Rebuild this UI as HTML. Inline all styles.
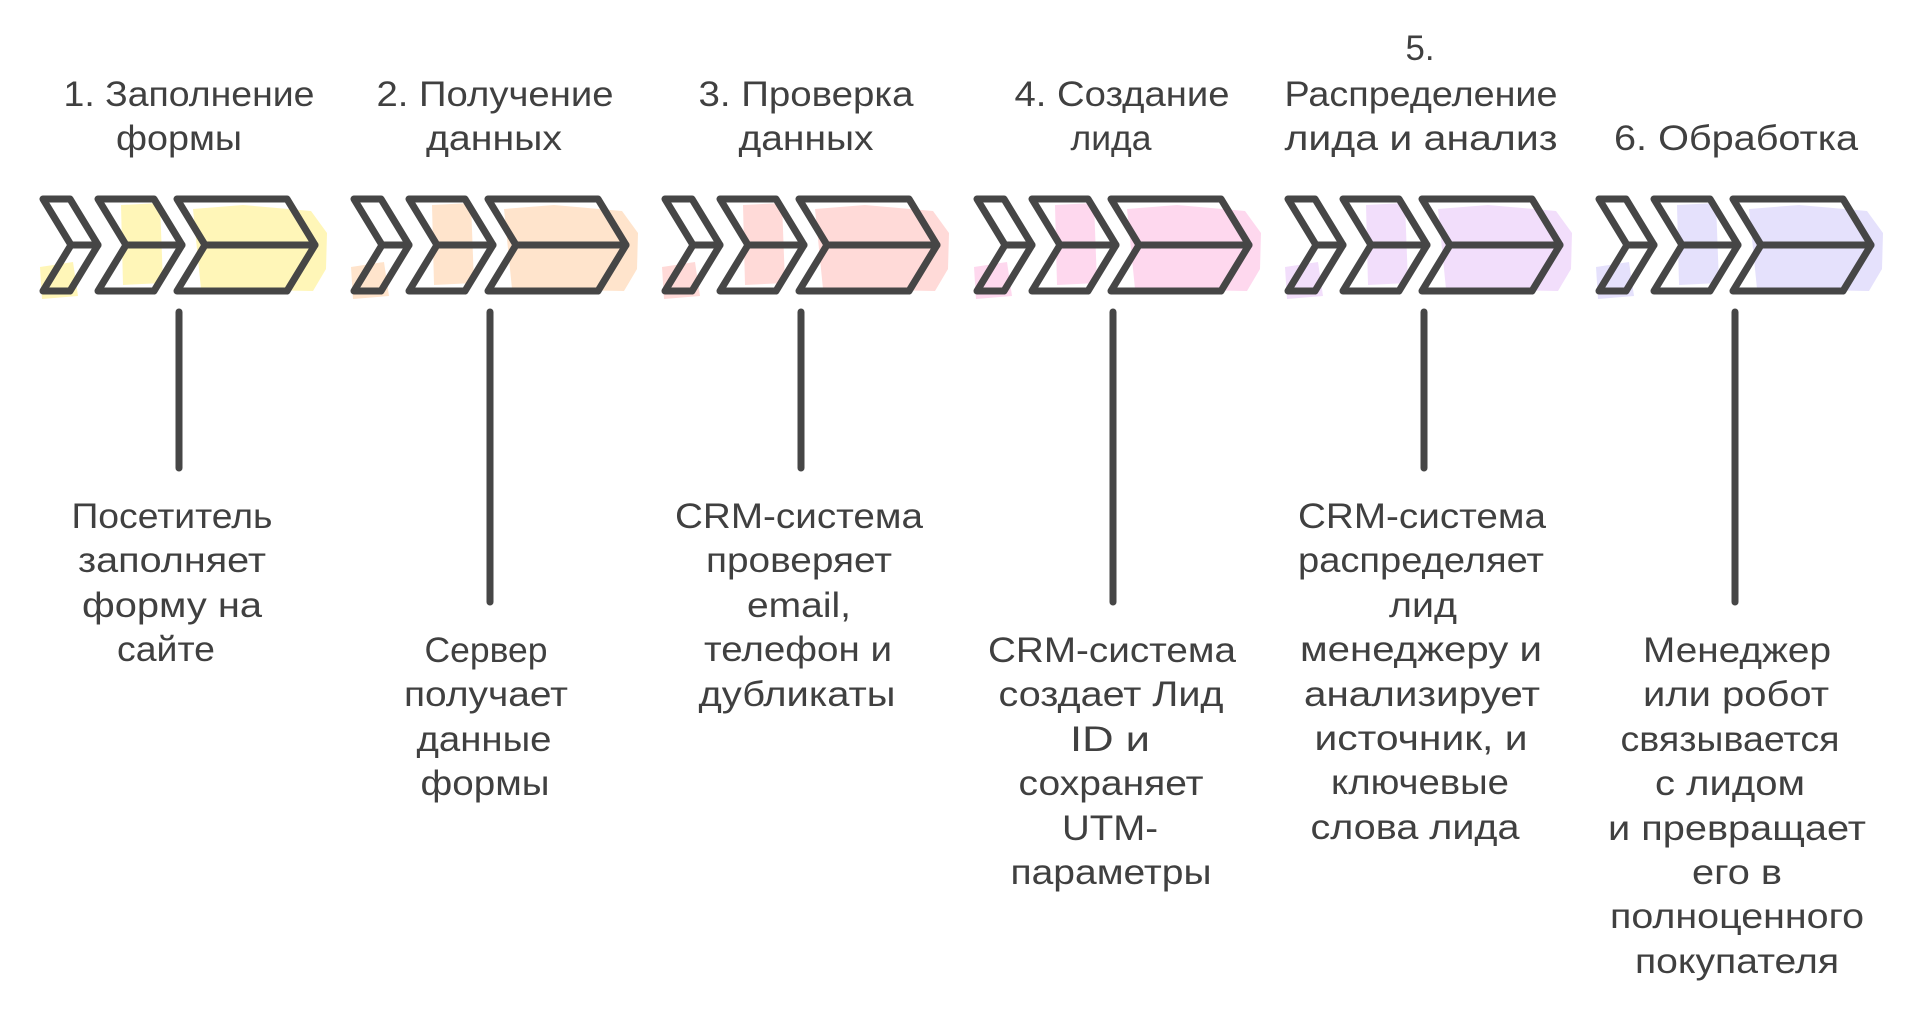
<!DOCTYPE html>
<html><head><meta charset="utf-8"><style>
html,body{margin:0;padding:0;background:#fff;}
svg{display:block;}
text{font-family:"Liberation Sans","Noto Sans CJK SC",sans-serif;font-size:35px;fill:#404040;}
</style></head><body>
<svg width="1920" height="1029" viewBox="0 0 1920 1029" xmlns="http://www.w3.org/2000/svg">
<defs>
<g id="chev">
<polygon points="0,0 27,0 55,46 27,92 0,92 28,46"/>
<line x1="28" y1="46" x2="55" y2="46"/>
<polygon points="55,0 111,0 139,46 111,92 55,92 83,46"/>
<line x1="83" y1="46" x2="139" y2="46"/>
<polygon points="134,0 244,0 272,46 244,92 134,92 162,46"/>
<line x1="162" y1="46" x2="272" y2="46"/>
</g>
<g id="fill">
<polygon points="-3,68 30,63 35,97 -1,100"/>
<polygon points="78,6 117,4 120,84 80,86"/>
<polygon points="150,10 200,6 268,12 284,34 283,70 270,92 158,90"/>
</g>
</defs>

<!-- fills -->
<use href="#fill" x="43" y="199" fill="#fff6b8"/>
<use href="#fill" x="354" y="199" fill="#ffe4cc"/>
<use href="#fill" x="665" y="199" fill="#ffdad8"/>
<use href="#fill" x="977" y="199" fill="#fed8ee"/>
<use href="#fill" x="1288" y="199" fill="#f2defb"/>
<use href="#fill" x="1599" y="199" fill="#e5e1fc"/>

<!-- chevron outlines -->
<g fill="none" stroke="#464646" stroke-width="7" stroke-linejoin="round" stroke-linecap="round">
<use href="#chev" x="43" y="199"/>
<use href="#chev" x="354" y="199"/>
<use href="#chev" x="665" y="199"/>
<use href="#chev" x="977" y="199"/>
<use href="#chev" x="1288" y="199"/>
<use href="#chev" x="1599" y="199"/>
<!-- stems -->
<line x1="179" y1="312" x2="179" y2="468"/>
<line x1="490" y1="312" x2="490" y2="602"/>
<line x1="801" y1="312" x2="801" y2="468"/>
<line x1="1113" y1="312" x2="1113" y2="602"/>
<line x1="1424" y1="312" x2="1424" y2="468"/>
<line x1="1735" y1="312" x2="1735" y2="602"/>
</g>

<g text-anchor="middle">
<!-- titles -->
<text x="189" y="106" textLength="251" lengthAdjust="spacingAndGlyphs">1. Заполнение</text>
<text x="179" y="150" textLength="126" lengthAdjust="spacingAndGlyphs">формы</text>
<text x="495" y="106" textLength="237" lengthAdjust="spacingAndGlyphs">2. Получение</text>
<text x="494" y="150" textLength="136" lengthAdjust="spacingAndGlyphs">данных</text>
<text x="806" y="106" textLength="215" lengthAdjust="spacingAndGlyphs">3. Проверка</text>
<text x="806" y="150" textLength="135" lengthAdjust="spacingAndGlyphs">данных</text>
<text x="1122" y="106" textLength="215" lengthAdjust="spacingAndGlyphs">4. Создание</text>
<text x="1111" y="150" textLength="81" lengthAdjust="spacingAndGlyphs">лида</text>
<text x="1420" y="60" textLength="29" lengthAdjust="spacingAndGlyphs">5.</text>
<text x="1421" y="106" textLength="273" lengthAdjust="spacingAndGlyphs">Распределение</text>
<text x="1421" y="150" textLength="273" lengthAdjust="spacingAndGlyphs">лида и анализ</text>
<text x="1736" y="150" textLength="244" lengthAdjust="spacingAndGlyphs">6. Обработка</text>

<!-- G1 -->
<text x="172" y="528" textLength="201" lengthAdjust="spacingAndGlyphs">Посетитель</text>
<text x="172" y="572" textLength="188" lengthAdjust="spacingAndGlyphs">заполняет</text>
<text x="172" y="617" textLength="180" lengthAdjust="spacingAndGlyphs">форму на</text>
<text x="166" y="661" textLength="98" lengthAdjust="spacingAndGlyphs">сайте</text>

<!-- G2 -->
<text x="486" y="662" textLength="123" lengthAdjust="spacingAndGlyphs">Сервер</text>
<text x="486" y="706" textLength="164" lengthAdjust="spacingAndGlyphs">получает</text>
<text x="484" y="751" textLength="135" lengthAdjust="spacingAndGlyphs">данные</text>
<text x="485" y="795" textLength="129" lengthAdjust="spacingAndGlyphs">формы</text>

<!-- G3 -->
<text x="799" y="528" textLength="248" lengthAdjust="spacingAndGlyphs">CRM-система</text>
<text x="799" y="572" textLength="186" lengthAdjust="spacingAndGlyphs">проверяет</text>
<text x="799" y="617" textLength="104" lengthAdjust="spacingAndGlyphs">email,</text>
<text x="798" y="661" textLength="188" lengthAdjust="spacingAndGlyphs">телефон и</text>
<text x="797" y="706" textLength="197" lengthAdjust="spacingAndGlyphs">дубликаты</text>

<!-- G4 -->
<text x="1112" y="662" textLength="248" lengthAdjust="spacingAndGlyphs">CRM-система</text>
<text x="1111" y="706" textLength="225" lengthAdjust="spacingAndGlyphs">создает Лид</text>
<text x="1110" y="751" textLength="80" lengthAdjust="spacingAndGlyphs">ID и</text>
<text x="1111" y="795" textLength="185" lengthAdjust="spacingAndGlyphs">сохраняет</text>
<text x="1110" y="840" textLength="96" lengthAdjust="spacingAndGlyphs">UTM-</text>
<text x="1111" y="884" textLength="201" lengthAdjust="spacingAndGlyphs">параметры</text>

<!-- G5 -->
<text x="1422" y="528" textLength="248" lengthAdjust="spacingAndGlyphs">CRM-система</text>
<text x="1421" y="572" textLength="246" lengthAdjust="spacingAndGlyphs">распределяет</text>
<text x="1423" y="617" textLength="68" lengthAdjust="spacingAndGlyphs">лид</text>
<text x="1421" y="661" textLength="242" lengthAdjust="spacingAndGlyphs">менеджеру и</text>
<text x="1422" y="706" textLength="236" lengthAdjust="spacingAndGlyphs">анализирует</text>
<text x="1421" y="750" textLength="213" lengthAdjust="spacingAndGlyphs">источник, и</text>
<text x="1420" y="794" textLength="178" lengthAdjust="spacingAndGlyphs">ключевые</text>
<text x="1415" y="839" textLength="209" lengthAdjust="spacingAndGlyphs">слова лида</text>

<!-- G6 -->
<text x="1737" y="662" textLength="188" lengthAdjust="spacingAndGlyphs">Менеджер</text>
<text x="1736" y="706" textLength="186" lengthAdjust="spacingAndGlyphs">или робот</text>
<text x="1730" y="751" textLength="219" lengthAdjust="spacingAndGlyphs">связывается</text>
<text x="1730" y="795" textLength="150" lengthAdjust="spacingAndGlyphs">с лидом</text>
<text x="1737" y="840" textLength="258" lengthAdjust="spacingAndGlyphs">и превращает</text>
<text x="1737" y="884" textLength="90" lengthAdjust="spacingAndGlyphs">его в</text>
<text x="1737" y="928" textLength="254" lengthAdjust="spacingAndGlyphs">полноценного</text>
<text x="1737" y="973" textLength="204" lengthAdjust="spacingAndGlyphs">покупателя</text>
</g>
</svg>
</body></html>
